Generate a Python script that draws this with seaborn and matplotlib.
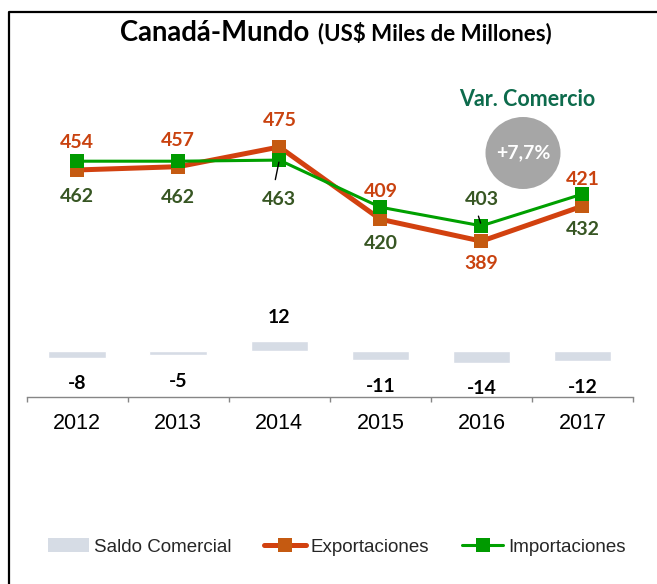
import matplotlib
matplotlib.use('Agg')
import matplotlib.pyplot as plt
import seaborn as sns
import pandas as pd
from matplotlib.patches import Ellipse, Patch
from matplotlib.lines import Line2D

# datos del grafico
anios = ['2012', '2013', '2014', '2015', '2016', '2017']
exportaciones = [454, 457, 475, 409, 389, 421]
importaciones = [462, 462, 463, 420, 403, 432]
saldo = [-8, -5, 12, -11, -14, -12]
var_comercio = '+7,7%'

df = pd.DataFrame({'Año': anios,
                   'Exportaciones': exportaciones,
                   'Importaciones': importaciones,
                   'Saldo Comercial': saldo})

# desplazamiento vertical de las etiquetas (en pixeles)
off_exp = [27, 26, 26, 28, -22, 27]
off_imp = [-35, -36, -39, -36, 26, -35]

c_exp = '#D2410F'
c_exp_mk = '#C55A11'
c_imp = '#00A000'
c_imp_mk = '#009A00'
c_exp_txt = '#C9420F'
c_imp_txt = '#375623'
c_barra = '#D6DCE5'
c_eje = '#868686'

sns.set_theme(style='white')
plt.rcParams['font.family'] = ['Liberation Sans', 'DejaVu Sans']
fuente_num = ['Lato', 'DejaVu Sans']

W, H = 657, 584
fig = plt.figure(figsize=(W / 100, H / 100), dpi=100)
fig.patch.set_facecolor('white')

ax = fig.add_axes([26.7 / W, 1 - 396.7 / H, (633 - 26.7) / W, (396.7 - 90) / H])
ax2 = ax.twinx()

# barras del saldo comercial
sns.barplot(data=df, x='Año', y='Saldo Comercial', color=c_barra, saturation=1,
            width=0.57, errorbar=None, ax=ax)

# lineas de exportaciones e importaciones
sns.pointplot(data=df, x='Año', y='Exportaciones', color=c_exp, markers='s',
              linestyles='-', linewidth=3.6, markersize=10, markeredgewidth=0,
              markerfacecolor=c_exp_mk, errorbar=None, ax=ax2)
sns.pointplot(data=df, x='Año', y='Importaciones', color=c_imp, markers='s',
              linestyles='-', linewidth=2.2, markersize=10, markeredgewidth=0,
              markerfacecolor=c_imp_mk, errorbar=None, ax=ax2)

ax.set_ylim(-54, 307)
ax2.set_ylim(247, 527)
ax.set_xlim(-0.5, len(anios) - 0.5)

# etiquetas de las barras
for i, s in enumerate(saldo):
    dy = 23 if s > 0 else -26
    ax.annotate(str(s), xy=(i, s), xytext=(0, dy * 0.72), textcoords='offset points',
                ha='center', va='center', fontsize=14, fontweight='bold',
                family=fuente_num, color='black')

# etiquetas de las lineas
for i, (v, dy) in enumerate(zip(exportaciones, off_exp)):
    ax2.annotate(str(v), xy=(i, v), xytext=(0, dy * 0.72), textcoords='offset points',
                 ha='center', va='center', fontsize=14, fontweight='bold',
                 family=fuente_num, color=c_exp_txt)
for i, (v, dy) in enumerate(zip(importaciones, off_imp)):
    ax2.annotate(str(v), xy=(i, v), xytext=(0, dy * 0.72), textcoords='offset points',
                 ha='center', va='center', fontsize=14, fontweight='bold',
                 family=fuente_num, color=c_imp_txt)

# lineas guia de 463 y 403
ax2.annotate('', xy=(2, importaciones[2]), xytext=(-4 * 0.72, -19.5 * 0.72),
             textcoords='offset points',
             arrowprops=dict(arrowstyle='-', color='black', lw=1, shrinkA=0, shrinkB=1.5))
ax2.annotate('', xy=(4, importaciones[4]), xytext=(-3 * 0.72, 9.7 * 0.72),
             textcoords='offset points',
             arrowprops=dict(arrowstyle='-', color='black', lw=1, shrinkA=0, shrinkB=-2))

# ejes
for a in (ax, ax2):
    for lado in ['top', 'left', 'right']:
        a.spines[lado].set_visible(False)
    a.set_yticks([])
    a.set_ylabel('')
ax2.spines['bottom'].set_visible(False)
ax.spines['bottom'].set_color(c_eje)
ax.spines['bottom'].set_linewidth(1)
ax.set_xlabel('')
ax.set_xticks(range(len(anios)))
ax.set_xticklabels(anios)
ax.set_xticks([i - 0.5 for i in range(len(anios) + 1)], minor=True)
ax.tick_params(axis='x', which='major', length=0, pad=11.5, labelsize=15.5, labelcolor='black')
ax.tick_params(axis='x', which='minor', length=3.6, width=1, color=c_eje, direction='out', bottom=True)

# titulo
fig.text(120 / W, 1 - 40.7 / H, 'Canadá-Mundo', ha='left', va='baseline',
         fontsize=19.8, fontweight='bold', family=fuente_num, color='black')
fig.text(318 / W, 1 - 40.7 / H, '(US$ Miles de Millones)', ha='left', va='baseline',
         fontsize=16, fontweight='bold', family=fuente_num, color='black')

# variacion del comercio
fig.text(527.5 / W, 1 - 106 / H, 'Var. Comercio', ha='center', va='baseline',
         fontsize=15.5, fontweight='bold', family=fuente_num, color='#0D6B4C')
fig.patches.append(Ellipse((523 / W, 1 - 153 / H), 75 / W, 72 / H,
                           transform=fig.transFigure, facecolor='#A6A6A6',
                           edgecolor='none'))
fig.text(523 / W, 1 - 152.5 / H, var_comercio, ha='center', va='center',
         fontsize=14, fontweight='bold', family=fuente_num, color='white')

# leyenda
handles = [Patch(facecolor=c_barra, edgecolor='none'),
           Line2D([], [], color=c_exp, lw=3.6, marker='s', markersize=10,
                  markeredgewidth=0, markerfacecolor=c_exp_mk),
           Line2D([], [], color=c_imp, lw=2.2, marker='s', markersize=10,
                  markeredgewidth=0, markerfacecolor=c_imp_mk)]
fig.legend(handles, ['Saldo Comercial', 'Exportaciones', 'Importaciones'],
           loc='center', bbox_to_anchor=(336.5 / W, 1 - 547 / H), ncol=3,
           frameon=False, fontsize=13.5, handlelength=2.2, handletextpad=0.25,
           columnspacing=1.77)

# marco
fig.lines.append(Line2D([8.5 / W, 8.5 / W, 1.01], [-0.01, 1 - 11.5 / H, 1 - 11.5 / H],
                        transform=fig.transFigure, color='black', lw=1.6))

fig.savefig('out.png', dpi=100)
